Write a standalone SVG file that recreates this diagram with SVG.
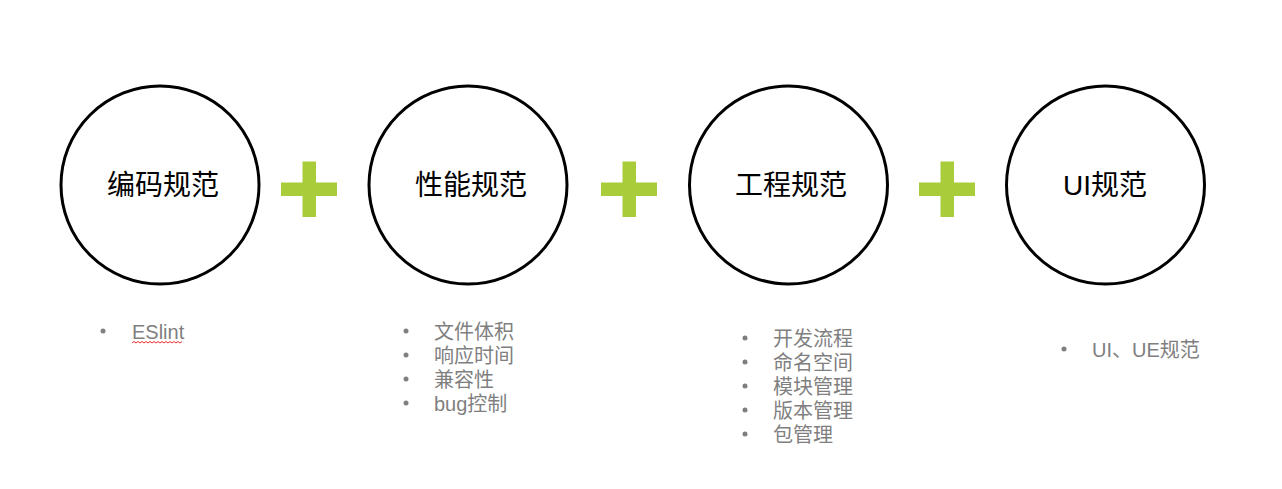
<svg xmlns="http://www.w3.org/2000/svg" width="1282" height="489" viewBox="0 0 1282 489">
<style>
.c{fill:#fff;stroke:#000;stroke-width:3}
.t{font-family:"Liberation Sans","Noto Sans CJK SC",sans-serif;font-size:28px;fill:#000;text-anchor:middle}
.l{font-family:"Liberation Sans","Noto Sans CJK SC",sans-serif;font-size:20px;fill:#7f7f7f}
.b{fill:#7f7f7f}
.p{fill:#a9cc3a}
</style>
<defs>
<g id="plus"><rect x="-28" y="-6.5" width="56" height="13.5"/><rect x="-6.5" y="-27.5" width="13.5" height="55.5"/></g>
</defs>
<rect width="1282" height="489" fill="#fff"/>
<g id="node1"><circle class="c" cx="160" cy="185" r="99"/><text class="t" x="163" y="195">编码规范</text></g>
<g id="node2"><circle class="c" cx="468" cy="185" r="99"/><text class="t" x="471" y="195">性能规范</text></g>
<g id="node3"><circle class="c" cx="788.5" cy="185" r="99"/><text class="t" x="791" y="195">工程规范</text></g>
<g id="node4"><circle class="c" cx="1105.5" cy="185" r="99"/><text class="t" x="1105" y="195">UI规范</text></g>
<g id="connectors">
<use href="#plus" class="p" x="309" y="189"/>
<use href="#plus" class="p" x="629" y="189"/>
<use href="#plus" class="p" x="947" y="189"/>
</g>
<g id="list1">
<circle class="b" cx="103" cy="331" r="2.5"/>
<text class="l" x="132" y="339">ESlint</text>
<path d="M132 343 l2 -1.5 l2 1.5 l2 -1.5 l2 1.5 l2 -1.5 l2 1.5 l2 -1.5 l2 1.5 l2 -1.5 l2 1.5 l2 -1.5 l2 1.5 l2 -1.5 l2 1.5 l2 -1.5 l2 1.5 l2 -1.5 l2 1.5 l2 -1.5 l2 1.5 l2 -1.5 l2 1.5 l2 -1.5 l2 1.5 l2 -1.5" fill="none" stroke="#e03030" stroke-width="1"/>
</g>
<g id="list2">
<circle class="b" cx="406" cy="331" r="2.5"/><text class="l" x="434" y="339">文件体积</text>
<circle class="b" cx="406" cy="355" r="2.5"/><text class="l" x="434" y="363">响应时间</text>
<circle class="b" cx="406" cy="379" r="2.5"/><text class="l" x="434" y="387">兼容性</text>
<circle class="b" cx="406" cy="403" r="2.5"/><text class="l" x="434" y="411">bug控制</text>
</g>
<g id="list3">
<circle class="b" cx="745" cy="338" r="2.5"/><text class="l" x="773" y="346">开发流程</text>
<circle class="b" cx="745" cy="362" r="2.5"/><text class="l" x="773" y="370">命名空间</text>
<circle class="b" cx="745" cy="386" r="2.5"/><text class="l" x="773" y="394">模块管理</text>
<circle class="b" cx="745" cy="410" r="2.5"/><text class="l" x="773" y="418">版本管理</text>
<circle class="b" cx="745" cy="434" r="2.5"/><text class="l" x="773" y="442">包管理</text>
</g>
<g id="list4">
<circle class="b" cx="1064" cy="349" r="2.5"/><text class="l" x="1092" y="357">UI、UE规范</text>
</g>
</svg>
